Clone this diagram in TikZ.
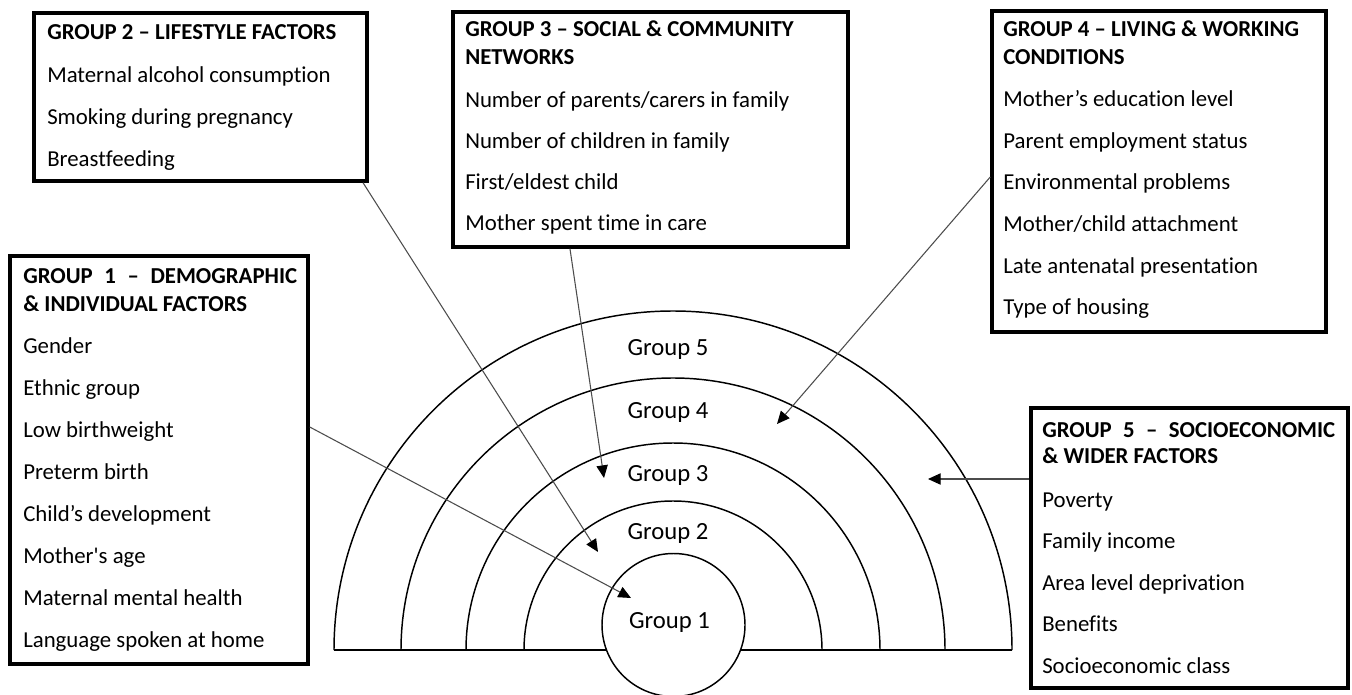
\documentclass[tikz,border=0pt]{standalone}
\usepackage{fontspec}
\setmainfont[Ligatures={TeX,NoCommon}]{Carlito}
\usetikzlibrary{arrows.meta}
\def\pxu{0.75pt}
\begin{document}
\begin{tikzpicture}[x=0.75pt,y=-0.75pt,
  ring/.style={line width=1.1pt},
  boxframe/.style={draw, line width=2.6pt, inner sep=0pt, fill=white},
  itm/.style={anchor=base west, inner sep=0pt, font=\fontsize{17.1}{20}\selectfont},
  hdr/.style={anchor=base west, inner sep=0pt, font=\fontsize{17.1}{20}\selectfont\bfseries},
  lbl/.style={anchor=base, inner sep=0pt, font=\fontsize{18.5}{22}\selectfont},
  conn/.style={draw=black!70, line width=0.8pt, -{Triangle[length=9.5pt,width=8.5pt,color=black,fill=black]}}]
\useasboundingbox (0,0) rectangle (1352,695);

% rings
\draw[ring] (334,650) arc[start angle=180, end angle=360, radius=339];
\draw[ring] (401,650) arc[start angle=180, end angle=360, radius=272];
\draw[ring] (466,650) arc[start angle=180, end angle=360, radius=207];
\draw[ring] (524,650) arc[start angle=180, end angle=360, radius=149];
\draw[ring] (334,650) -- (1012,650);
\node[circle, draw, ring, fill=white, minimum size=143*\pxu, inner sep=0pt] (c1) at (673.5,625) {};

% ring labels
\node[lbl] (l5) at (668,355) {Group 5};
\node[lbl] (l4) at (668,418) {Group 4};
\node[lbl] (l3) at (668,481) {Group 3};
\node[lbl] (l2) at (668,539) {Group 2};
\node[lbl] (l1) at (669.5,628) {Group 1};

% boxes
\node[boxframe, minimum width=298*\pxu, minimum height=408*\pxu] (b1) at (159,460) {};
\node[boxframe, minimum width=333*\pxu, minimum height=168*\pxu] (b2) at (200.5,97) {};
\node[boxframe, minimum width=395*\pxu, minimum height=235*\pxu] (b3) at (650.5,129.5) {};
\node[boxframe, minimum width=334*\pxu, minimum height=321*\pxu] (b4) at (1159,171.5) {};
\node[boxframe, minimum width=317*\pxu, minimum height=280*\pxu] (b5) at (1189.5,548) {};

% box 1
\node[hdr] (h1a) at (23,283) {\makebox[205.5pt][s]{GROUP 1 – DEMOGRAPHIC}};
\node[hdr] (h1b) at (23,311) {\& INDIVIDUAL FACTORS};
\foreach \t [count=\i] in {Gender, Ethnic group, Low birthweight, Preterm birth, Child’s development, Mother\textquotesingle s age, Maternal mental health, Language spoken at home}
  \node[itm] (g1i\i) at (23,{311+42*\i}) {\t};

% box 2
\node[hdr] (h2a) at (47,40) {GROUP 2 – LIFESTYLE FACTORS};
\foreach \t [count=\i] in {Maternal alcohol consumption, Smoking during pregnancy, Breastfeeding}
  \node[itm] (g2i\i) at (47,{41+42*\i}) {\t};

% box 3
\node[hdr] (h3a) at (465,37) {GROUP 3 – SOCIAL \& COMMUNITY};
\node[hdr] (h3b) at (465,65) {NETWORKS};
\foreach \t [count=\i] in {Number of parents/carers in family, Number of children in family, First/eldest child, Mother spent time in care}
  \node[itm] (g3i\i) at (465,{67+41*\i}) {\t};

% box 4
\node[hdr] (h4a) at (1003,37) {GROUP 4 – LIVING \& WORKING};
\node[hdr] (h4b) at (1003,65) {CONDITIONS};
\foreach \t [count=\i] in {Mother’s education level, Parent employment status, Environmental problems, Mother/child attachment, Late antenatal presentation, Type of housing}
  \node[itm] (g4i\i) at (1003,{65.5+41.5*\i}) {\t};

% box 5
\node[hdr] (h5a) at (1042,437) {\makebox[219.75pt][s]{GROUP 5 – SOCIOECONOMIC}};
\node[hdr] (h5b) at (1042,463) {\& WIDER FACTORS};
\foreach \t [count=\i] in {Poverty, Family income, Area level deprivation, Benefits, Socioeconomic class}
  \node[itm] (g5i\i) at (1042,{465.5+41.5*\i}) {\t};

% arrow tips
\coordinate (t1) at (631,598);
\coordinate (t2) at (598,552);
\coordinate (t3) at (604,478);
\coordinate (t4) at (777,424);
\coordinate (t5) at (928,479);

\draw[conn] ([yshift=24.75pt]b1.east) -- (t1);
\draw[conn] ([xshift=121.9pt]b2.south) -- (t2);
\draw[conn] ([xshift=-60.4pt]b3.south) -- (t3);
\draw[conn] ([yshift=-4.1pt]b4.west) -- (t4);
\draw[conn] ([yshift=51.75pt]b5.west) -- (t5);
\end{tikzpicture}
\end{document}
